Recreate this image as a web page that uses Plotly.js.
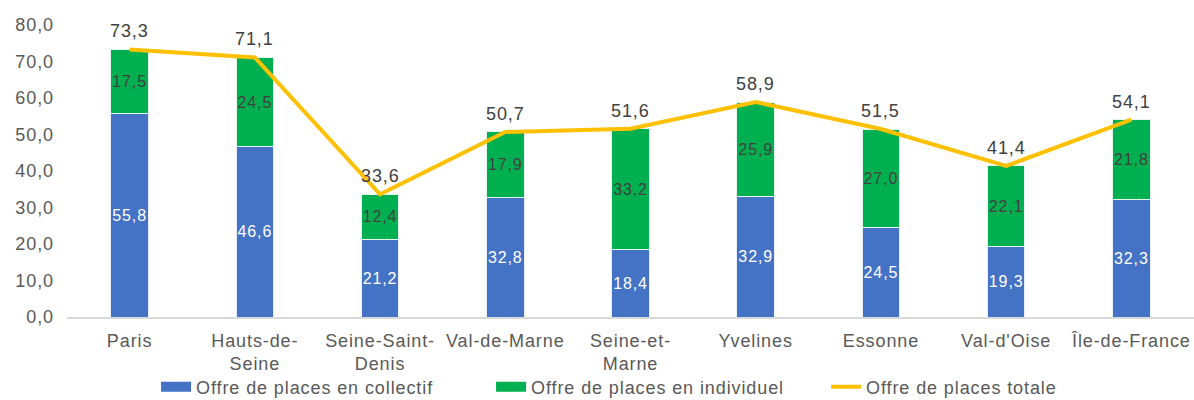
<!DOCTYPE html>
<html>
<head>
<meta charset="utf-8">
<script src="https://cdn.plot.ly/plotly-3.0.1.min.js"></script>
<style>
html,body{margin:0;padding:0;background:#fff;}
#chart{width:1194px;height:400px;}
svg text{letter-spacing:0.9px;}
</style>
</head>
<body>
<div id="chart"></div>
<script>
const categories = ["Paris", "Hauts-de-<br>Seine", "Seine-Saint-<br>Denis", "Val-de-Marne", "Seine-et-<br>Marne", "Yvelines", "Essonne", "Val-d'Oise", "Île-de-France"];
const collectif = [55.8, 46.6, 21.2, 32.8, 18.4, 32.9, 24.5, 19.3, 32.3];
const individuel = [17.5, 24.5, 12.4, 17.9, 33.2, 25.9, 27.0, 22.1, 21.8];
const totale = [73.3, 71.1, 33.6, 50.7, 51.6, 58.9, 51.5, 41.4, 54.1];
const seriesNames = ["Offre de places en collectif", "Offre de places en individuel", "Offre de places totale"];
const seriesColors = ['#4472C4', '#00B050', '#FFC000'];

const fmt = v => v.toFixed(1).replace('.', ',');
const font = "Liberation Sans, Arial, sans-serif";

const traces = [
  {
    type: 'bar', x: categories, y: collectif, name: seriesNames[0], showlegend: false,
    marker: {color: seriesColors[0], line: {color: '#E8EEF8', width: 1}},
    text: collectif.map(fmt), textposition: 'inside', insidetextanchor: 'middle',
    textangle: 0, constraintext: 'none',
    textfont: {color: '#FFFFFF', size: 16, family: font}, hoverinfo: 'none'
  },
  {
    type: 'bar', x: categories, y: individuel, name: seriesNames[1], showlegend: false,
    marker: {color: seriesColors[1], line: {color: '#E6F6EC', width: 1}},
    text: individuel.map(fmt), textposition: 'inside', insidetextanchor: 'middle',
    textangle: 0, constraintext: 'none',
    textfont: {color: '#404040', size: 16, family: font}, hoverinfo: 'none'
  },
  {
    type: 'scatter', mode: 'lines', x: categories, y: totale, name: seriesNames[2], showlegend: false,
    line: {color: seriesColors[2], width: 4}, hoverinfo: 'none'
  },
  // legend entries (wide swatches like the original)
  {type: 'scatter', mode: 'lines', x: [null], y: [null], name: seriesNames[0], line: {color: seriesColors[0], width: 10}},
  {type: 'scatter', mode: 'lines', x: [null], y: [null], name: seriesNames[1], line: {color: seriesColors[1], width: 10}},
  {type: 'scatter', mode: 'lines', x: [null], y: [null], name: seriesNames[2], line: {color: seriesColors[2], width: 4}}
];

const annotations = categories.map((c, i) => ({
  x: c, y: totale[i], xref: 'x', yref: 'y', text: fmt(totale[i]), showarrow: false,
  yanchor: 'middle', yshift: 18, font: {size: 18, color: '#404040', family: font}
}));

const layout = {
  width: 1194, height: 400,
  margin: {l: 67, r: 0, t: 25, b: 83, autoexpand: false},
  barmode: 'stack', bargap: 0.7,
  paper_bgcolor: '#fff', plot_bgcolor: '#fff',
  font: {family: font, color: '#595959', size: 18},
  showlegend: true,
  legend: {orientation: 'h', xref: 'container', yref: 'container', x: 0.1307, xanchor: 'left',
           y: 0.0325, yanchor: 'middle',
           bgcolor: 'rgba(0,0,0,0)',
           font: {size: 18, color: '#595959'}, traceorder: 'normal',
           entrywidth: 290, entrywidthmode: 'pixels', tracegroupgap: 0},
  annotations: annotations,
  xaxis: {showgrid: false, showline: true, linecolor: '#D9D9D9', linewidth: 2, ticks: '',
          tickfont: {size: 18, color: '#595959'}, automargin: false, ticklabelstandoff: 6},
  yaxis: {range: [0, 80], dtick: 10, tickformat: '.1f', showgrid: false, zeroline: false,
          showline: false, ticks: '', tickfont: {size: 18, color: '#595959'}, automargin: false, ticklabelstandoff: 12},
  separators: ',.'
};

Plotly.newPlot('chart', traces, layout, {displayModeBar: false, staticPlot: true});
</script>
</body>
</html>
